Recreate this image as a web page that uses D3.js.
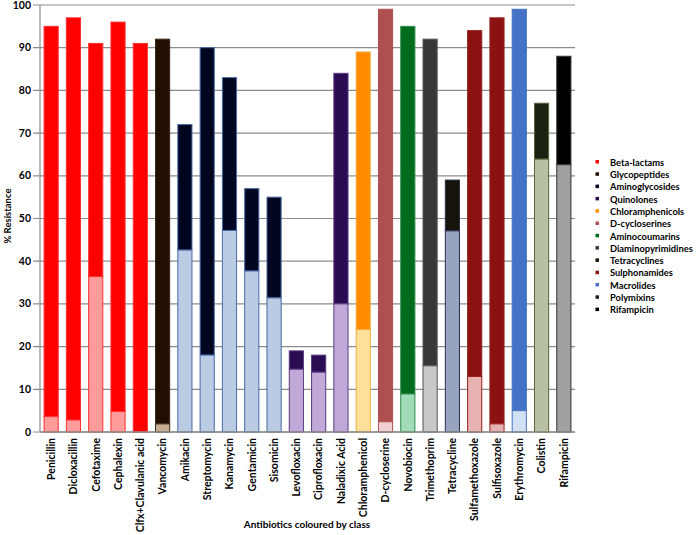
<!DOCTYPE html>
<html><head><meta charset="utf-8">
<script src="https://cdn.jsdelivr.net/npm/d3@7"></script>
<style>
body{margin:0;background:#fff;}
text{font-family:Lato,"Open Sans",sans-serif;font-weight:bold;fill:#000;}
</style></head>
<body><svg id="c" width="697" height="535"></svg>
<script>
const antibiotics = ["Penicillin","Dicloxacillin","Cefotaxime","Cephalexin","Clfx+Clavulanic acid","Vancomycin","Amikacin","Streptomycin","Kanamycin","Gentamicin","Sisomicin","Levofloxacin","Ciprofloxacin","Naladixic Acid","Chloramphenicol","D-cycloserine","Novobiocin","Trimethoprim","Tetracycline","Sulfamethoxazole","Sulfisoxazole","Erythromycin","Colistin","Rifampicin"];
const barClass = [0,0,0,0,0,1,2,2,2,2,2,3,3,3,4,5,6,7,8,9,9,10,11,12];
const totalResistance = [95,97,91,96,91,92,72,90,83,57,55,19,18,84,89,99,95,92,59,94,97,99,77,88];
const lowerPart = [3.6,2.8,36.4,4.8,0,1.9,42.6,18,47.2,37.7,31.4,14.7,14,30,24,2.4,8.9,15.5,47.1,13,1.9,5,63.9,62.6];
const classNames = ["Beta-lactams","Glycopeptides","Aminoglycosides","Quinolones","Chloramphenicols","D-cycloserines","Aminocoumarins","Diaminopyrimidines","Tetracyclines","Sulphonamides","Macrolides","Polymixins","Rifampicin"];
const classTopColor = ["#ff0000","#230e02","#00061f","#2b0b52","#ff8c00","#b04f4f","#006b1c","#383838","#16130a","#8a1212","#4472c4","#1b2212","#000000"];
const classLowColor = ["#ff9b9b","#c9ad92","#b9cce4","#c0a9d9","#ffe09a","#f0d0d0","#a0dcb7","#c8c8c8","#98a4bf","#e8b2b2","#d2e0f3","#b8c0a4","#a0a0a0"];
const classEdge = ["#ff3030","#3a2a1a","#4a6aa6","#5a3a80","#f0b040","#b04f4f","#2e8a4a","#555555","#2a3050","#9a2020","#4472c4","#5a6640","#333333"];
const yTicks = [0,10,20,30,40,50,60,70,80,90,100];

const svg = d3.select("#c");
const x = d3.scaleBand().domain(antibiotics).range([40,575]).paddingInner(0.32).paddingOuter(0.16);
const y = d3.scaleLinear().domain([0,100]).range([432,5]);

// gridlines
svg.append("g").selectAll("line").data(yTicks).join("line")
  .attr("x1",33).attr("x2",575).attr("y1",d=>y(d)).attr("y2",d=>y(d))
  .attr("stroke","#8c8c8c").attr("stroke-width",1.2);
svg.append("line").attr("x1",40).attr("x2",40).attr("y1",y(100)).attr("y2",y(0)).attr("stroke","#8c8c8c").attr("stroke-width",1.2);

// y tick labels
svg.append("g").selectAll("text").data(yTicks).join("text")
  .attr("x",31).attr("y",d=>y(d)+3.5).attr("text-anchor","end").attr("font-size",10.5).text(d=>d);

// bars
const g = svg.append("g");
antibiotics.forEach((a,i)=>{
  const c = barClass[i];
  g.append("rect").attr("x",x(a)+0.5).attr("width",x.bandwidth()-1)
    .attr("y",y(totalResistance[i])).attr("height",y(lowerPart[i])-y(totalResistance[i]))
    .attr("fill",classTopColor[c]).attr("stroke",classEdge[c]).attr("stroke-width",1);
  if(lowerPart[i]>0){
    g.append("rect").attr("x",x(a)+0.5).attr("width",x.bandwidth()-1)
      .attr("y",y(lowerPart[i])).attr("height",y(0)-y(lowerPart[i]))
      .attr("fill",classLowColor[c]).attr("stroke",classEdge[c]).attr("stroke-width",1);
  }
});
svg.append("line").attr("x1",40).attr("x2",575).attr("y1",y(0)).attr("y2",y(0)).attr("stroke","#8c8c8c").attr("stroke-width",1.5);

// x labels
svg.append("g").selectAll("text").data(antibiotics).join("text")
  .attr("transform",d=>`translate(${x(d)+x.bandwidth()/2+3.8},438) rotate(-90)`)
  .attr("text-anchor","end").attr("font-size",10.5).text(d=>d);

// axis titles
svg.append("text").attr("transform","translate(11,216) rotate(-90)").attr("text-anchor","middle").attr("font-size",9.5).text("% Resistance");
svg.append("text").attr("x",307).attr("y",528).attr("text-anchor","middle").attr("font-size",10).text("Antibiotics coloured by class");

// legend
const lg = svg.append("g");
classNames.forEach((n,i)=>{
  const yy = 162.5 + i*12.3;
  lg.append("rect").attr("x",595.5).attr("y",yy-2.5).attr("width",3.5).attr("height",3.5).attr("fill",classTopColor[i]);
  lg.append("text").attr("x",610).attr("y",yy+3.2).attr("font-size",9.3).text(n);
});
</script></body></html>
